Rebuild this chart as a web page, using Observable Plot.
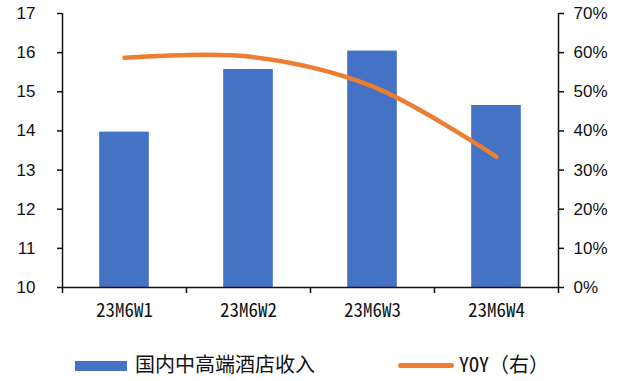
<!DOCTYPE html>
<html>
<head>
<meta charset="utf-8">
<script src="https://cdn.jsdelivr.net/npm/d3@7"></script>
<script src="https://cdn.jsdelivr.net/npm/@observablehq/plot@0.6"></script>
<style>
  html, body { margin: 0; padding: 0; background: #fff; }
  #wrap { position: relative; width: 617px; height: 381px; overflow: hidden; }
  #chart svg { display: block; }
  .legend { position: absolute; font-family: "Noto Sans Mono CJK SC", "Noto Sans CJK SC", sans-serif; font-size: 20px; line-height: 20px; color: #111; white-space: nowrap; }
  .sw { position: absolute; }
</style>
</head>
<body>
<div id="wrap">
  <div id="chart"></div>
  <div class="sw" style="left:75px;top:361px;width:52px;height:10px;background:#4472C4"></div>
  <div class="legend" id="lab-rev" style="left:135px;top:354px"></div>
  <div class="sw" style="left:398px;top:363px;width:56px;height:5px;border-radius:3px;background:#ED7D31"></div>
  <div class="legend" id="lab-yoy" style="left:459px;top:354px"></div>
</div>
<script>
// Weekly domestic mid/high-end hotel revenue, June 2023
const weeks = ["23M6W1", "23M6W2", "23M6W3", "23M6W4"];
const revenue = [13.97, 15.57, 16.04, 14.65];   // left axis
const yoy = [58.7, 59.0, 51.4, 33.4];            // right axis, %
const leftTicks = [10, 11, 12, 13, 14, 15, 16, 17];
const rightTicks = [0, 10, 20, 30, 40, 50, 60, 70];
const seriesNames = ["国内中高端酒店收入", "YOY（右）"];

const data = weeks.map((week, i) => ({week, revenue: revenue[i], yoy: yoy[i]}));

// The right-hand percentage axis shares the left scale through this mapping
const yoyToLeft = d3.scaleLinear([0, 70], [10, 17]);

const blue = "#4472C4";
const orange = "#ED7D31";
const ink = "#111";

const chart = Plot.plot({
  width: 617,
  height: 335,
  marginLeft: 62,
  marginRight: 59,
  marginTop: 13,
  marginBottom: 48,
  style: {fontFamily: "'Liberation Sans', Arial, sans-serif", color: ink, background: "#fff"},
  x: {type: "linear", domain: [0, weeks.length], axis: null},
  y: {domain: [10, 17], axis: null},
  marks: [
    Plot.rectY(data, {
      x1: (d, i) => i + 0.3,
      x2: (d, i) => i + 0.7,
      y1: 10,
      y2: "revenue",
      fill: blue
    }),
    // left, right and bottom axis lines
    Plot.ruleX([0, weeks.length], {stroke: ink, strokeWidth: 1.5}),
    Plot.ruleY([10], {stroke: ink, strokeWidth: 1.5}),
    // category boundary ticks
    Plot.axisX(d3.range(weeks.length + 1), {
      tickSize: 6, tickFormat: () => "", label: null, stroke: ink, strokeWidth: 1.5
    }),
    // category labels centred in each slot
    Plot.axisX(weeks.map((w, i) => i + 0.5), {
      tickSize: 0,
      tickPadding: 16,
      label: null,
      tickFormat: (d) => weeks[Math.floor(d)],
      fontSize: 19,
      fontFamily: "'Noto Sans Mono CJK SC', 'Noto Sans CJK SC', sans-serif",
      fill: ink
    }),
    Plot.axisY(leftTicks, {
      anchor: "left", tickSize: 5, tickPadding: 22, fontSize: 17, label: null,
      stroke: ink, strokeWidth: 1.5, fill: ink
    }),
    Plot.axisY(rightTicks.map(yoyToLeft), {
      anchor: "right", tickSize: 5, tickPadding: 10, fontSize: 17, label: null,
      tickFormat: (d) => Math.round(yoyToLeft.invert(d)) + "%",
      stroke: ink, strokeWidth: 1.5, fill: ink
    }),
    Plot.line(data, {
      x: (d, i) => i + 0.5,
      y: (d) => yoyToLeft(d.yoy),
      curve: "catmull-rom",
      stroke: orange,
      strokeWidth: 4.5,
      strokeLinecap: "round",
      strokeLinejoin: "round"
    })
  ]
});

document.getElementById("chart").append(chart);
document.getElementById("lab-rev").textContent = seriesNames[0];
document.getElementById("lab-yoy").textContent = seriesNames[1];
</script>
</body>
</html>
